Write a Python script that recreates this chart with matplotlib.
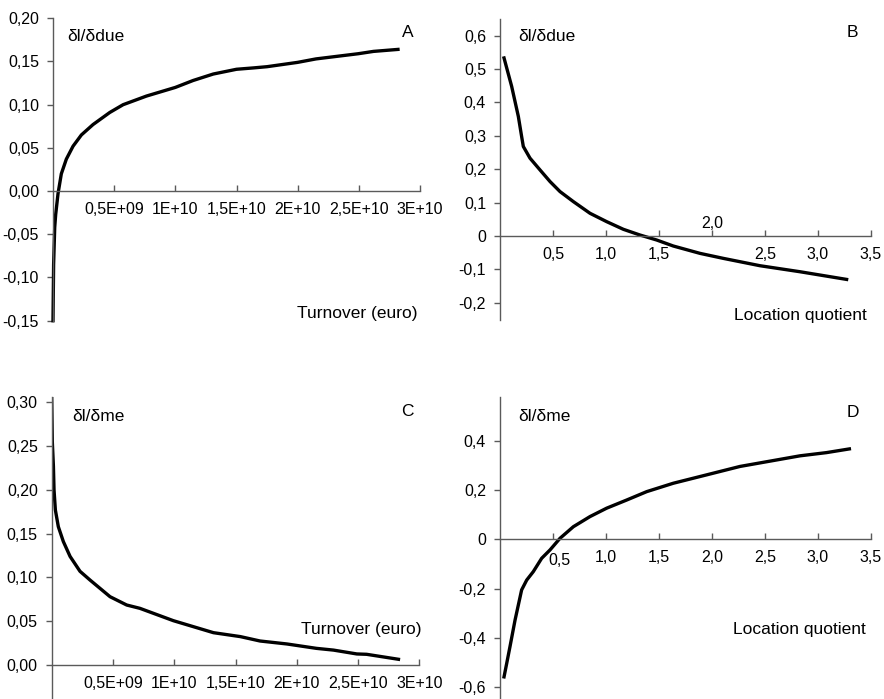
import matplotlib
matplotlib.use('Agg')
import matplotlib.pyplot as plt

plt.rcParams['font.family'] = ['Liberation Sans', 'DejaVu Sans']

# ---------------- data ----------------
# Panel A: dI/ddue vs turnover
a_turnover = [0.0, 0.05e9, 0.14e9, 0.22e9, 0.41e9, 0.68e9, 1.09e9, 1.64e9, 2.32e9, 3.27e9,
              4.64e9, 5.73e9, 7.64e9, 10.0e9, 11.45e9, 13.1e9, 15.0e9, 16.4e9, 17.5e9,
              20.0e9, 21.5e9, 24.95e9, 26.2e9, 28.2e9]
a_value = [-0.15, -0.085, -0.042, -0.027, -0.003, 0.020, 0.037, 0.052, 0.065, 0.077,
           0.091, 0.100, 0.110, 0.120, 0.128, 0.1355, 0.141, 0.1426, 0.144,
           0.149, 0.153, 0.159, 0.1617, 0.164]

# Panel B: dI/ddue vs location quotient
b_lq = [0.038, 0.11, 0.173, 0.204, 0.22, 0.283, 0.377, 0.472, 0.566, 0.692, 0.849,
        1.006, 1.164, 1.32, 1.478, 1.635, 1.887, 2.107, 2.453, 2.83, 3.27]
b_value = [0.533, 0.448, 0.358, 0.298, 0.268, 0.233, 0.198, 0.163, 0.133, 0.103, 0.068,
           0.043, 0.020, 0.003, -0.012, -0.030, -0.052, -0.067, -0.089, -0.107, -0.130]

# Panel C: dI/dme vs turnover
c_turnover = [0.0, 0.05e9, 0.14e9, 0.19e9, 0.3e9, 0.54e9, 0.95e9, 1.5e9, 2.31e9, 3.13e9,
              4.76e9, 6.12e9, 7.2e9, 9.93e9, 13.2e9, 15.4e9, 17.0e9, 19.2e9, 21.6e9,
              23.0e9, 24.9e9, 25.7e9, 28.3e9]
c_value = [0.306, 0.255, 0.227, 0.200, 0.177, 0.158, 0.141, 0.124, 0.107, 0.097,
           0.078, 0.0685, 0.0647, 0.0506, 0.0369, 0.0324, 0.0274, 0.024, 0.019,
           0.017, 0.0126, 0.0122, 0.0065]

# Panel D: dI/dme vs location quotient
d_lq = [0.038, 0.063, 0.094, 0.142, 0.204, 0.252, 0.314, 0.393, 0.472, 0.566, 0.692,
        0.849, 1.006, 1.195, 1.384, 1.635, 1.95, 2.264, 2.58, 2.83, 3.08, 3.296]
d_value = [-0.557, -0.503, -0.435, -0.327, -0.205, -0.165, -0.131, -0.077, -0.043, 0.004, 0.051,
           0.092, 0.126, 0.159, 0.193, 0.227, 0.261, 0.295, 0.319, 0.338, 0.351, 0.366]

turnover_ticks = [5e9, 1e10, 1.5e10, 2e10, 2.5e10, 3e10]
turnover_labels = ['0,5E+09', '1E+10', '1,5E+10', '2E+10', '2,5E+10', '3E+10']
lq_ticks = [0.5, 1.0, 1.5, 2.0, 2.5, 3.0, 3.5]
lq_labels = ['0,5', '1,0', '1,5', '2,0', '2,5', '3,0', '3,5']

a_yticks = [-0.15, -0.10, -0.05, 0.0, 0.05, 0.10, 0.15, 0.20]
a_ylabels = ['-0,15', '-0,10', '-0,05', '0,00', '0,05', '0,10', '0,15', '0,20']
b_yticks = [-0.2, -0.1, 0.0, 0.1, 0.2, 0.3, 0.4, 0.5, 0.6]
b_ylabels = ['-0,2', '-0,1', '0', '0,1', '0,2', '0,3', '0,4', '0,5', '0,6']
c_yticks = [0.0, 0.05, 0.10, 0.15, 0.20, 0.25, 0.30]
c_ylabels = ['0,00', '0,05', '0,10', '0,15', '0,20', '0,25', '0,30']
d_yticks = [-0.6, -0.4, -0.2, 0.0, 0.2, 0.4]
d_ylabels = ['-0,6', '-0,4', '-0,2', '0', '0,2', '0,4']

# ---------------- figure ----------------
W, H = 884, 699
fig = plt.figure(figsize=(W / 100, H / 100), dpi=100)

AXC = '#5a5a5a'
FS = 11.5     # tick labels
FL = 12.5     # annotation labels


def add_ax(left, right, top, bottom):
    return fig.add_axes([left / W, 1 - bottom / H, (right - left) / W, (bottom - top) / H])


def style(ax, xlim, ylim, xticks, xlabels, yticks, ylabels):
    ax.set_xlim(*xlim)
    ax.set_ylim(*ylim)
    for s in ('top', 'right'):
        ax.spines[s].set_visible(False)
    ax.spines['bottom'].set_position(('data', 0))
    for s in ('left', 'bottom'):
        ax.spines[s].set_color(AXC)
        ax.spines[s].set_linewidth(1.0)
    ax.set_xticks(xticks)
    ax.set_xticklabels(xlabels)
    ax.set_yticks(yticks)
    ax.set_yticklabels(ylabels)
    ax.tick_params(axis='x', direction='in', length=4, width=1, color=AXC,
                   labelsize=FS, pad=8)
    ax.tick_params(axis='y', direction='out', length=4, width=1, color=AXC,
                   labelsize=FS, pad=6)
    ax.patch.set_visible(False)


LW = 2.4

# Panel A
axA = add_ax(53, 420, 18.3, 320.7)
axA.plot(a_turnover, a_value, color='black', lw=LW, clip_on=False, solid_joinstyle='round')
style(axA, (0, 3e10), (-0.15, 0.20), turnover_ticks, turnover_labels, a_yticks, a_ylabels)
axA.text(1.14e9, 0.179, 'δl/δdue', fontsize=FL, ha='left', va='center')
axA.text(2.90e10, 0.183, 'A', fontsize=FL, ha='center', va='center')
axA.text(2.98e10, -0.142, 'Turnover (euro)', fontsize=FL, ha='right', va='center')

# Panel B
axB = add_ax(500, 871, 18.9, 319.5)
axB.plot(b_lq, b_value, color='black', lw=LW, solid_joinstyle='round')
b_xlabels = [l if l != '2,0' else '' for l in lq_labels]
style(axB, (0, 3.5), (-0.25, 0.65), lq_ticks, b_xlabels, b_yticks, b_ylabels)
axB.text(2.0, 0.038, '2,0', fontsize=FS, ha='center', va='center')
axB.text(0.17, 0.596, 'δl/δdue', fontsize=FL, ha='left', va='center')
axB.text(3.32, 0.608, 'B', fontsize=FL, ha='center', va='center')
axB.text(3.46, -0.237, 'Location quotient', fontsize=FL, ha='right', va='center')

# Panel C
axC = add_ax(51.7, 419.3, 397.1, 700)
axC.plot(c_turnover, c_value, color='black', lw=LW, solid_joinstyle='round')
style(axC, (0, 3e10), (-0.04, 0.306), turnover_ticks, turnover_labels, c_yticks, c_ylabels)
axC.text(1.66e9, 0.284, 'δl/δme', fontsize=FL, ha='left', va='center')
axC.text(2.90e10, 0.289, 'C', fontsize=FL, ha='center', va='center')
axC.text(3.02e10, 0.040, 'Turnover (euro)', fontsize=FL, ha='right', va='center')

# Panel D
axD = add_ax(500, 871, 396.8, 698.6)
axD.plot(d_lq, d_value, color='black', lw=LW, solid_joinstyle='round')
d_xlabels = [l if l != '0,5' else '' for l in lq_labels]
style(axD, (0, 3.5), (-0.645, 0.577), lq_ticks, d_xlabels, d_yticks, d_ylabels)
axD.text(0.563, -0.084, '0,5', fontsize=FS, ha='center', va='center')
axD.text(0.17, 0.496, 'δl/δme', fontsize=FL, ha='left', va='center')
axD.text(3.33, 0.515, 'D', fontsize=FL, ha='center', va='center')
axD.text(3.45, -0.367, 'Location quotient', fontsize=FL, ha='right', va='center')

fig.savefig('out.png', dpi=100)
